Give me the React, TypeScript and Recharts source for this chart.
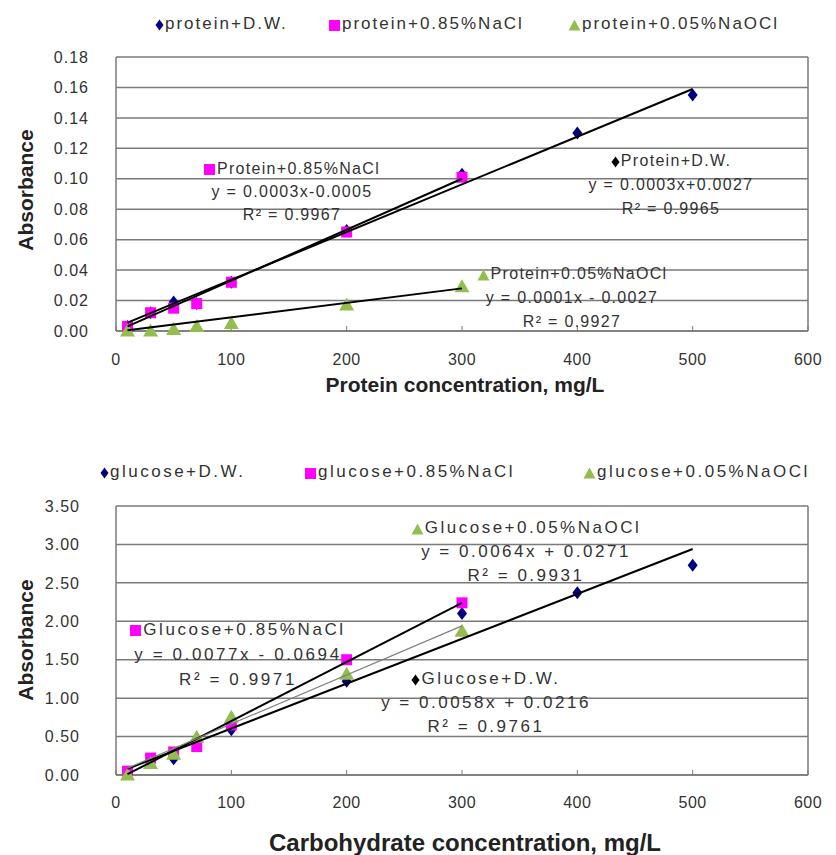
import React from 'react';
import { ScatterChart, Scatter, XAxis, YAxis, CartesianGrid, ReferenceLine } from 'recharts';

// concentrations, mg/L
const concAll = [10, 30, 50, 70, 100, 200, 300, 400, 500];
const concShort = [10, 30, 50, 70, 100, 200, 300];

// protein absorbance
const proteinDW = [0.003, 0.012, 0.019, 0.018, 0.032, 0.066, 0.103, 0.13, 0.155];
const proteinNaCl = [0.003, 0.012, 0.015, 0.018, 0.032, 0.065, 0.101];
const proteinNaOCl = [0.0, 0.0, 0.001, 0.003, 0.005, 0.017, 0.029];

// glucose absorbance
const glucoseDW = [0.03, 0.17, 0.21, 0.4, 0.59, 1.22, 2.1, 2.37, 2.73];
const glucoseNaCl = [0.05, 0.22, 0.3, 0.37, 0.65, 1.5, 2.24];
const glucoseNaOCl = [0.0, 0.15, 0.27, 0.49, 0.75, 1.31, 1.87];

// trendline end points
const trendXLong = [10, 500];
const trendXShort = [10, 300];
const proteinDWTrend = [0.0055, 0.159];
const proteinNaClTrend = [0.003, 0.1];
const proteinNaOClTrend = [0.0005, 0.028];
const glucoseDWTrend = [0.08, 2.94];
const glucoseNaClTrend = [0.01, 2.24];
const glucoseNaOClTrend = [0.09, 1.94];

const xTicks = [0, 100, 200, 300, 400, 500, 600];
const proteinYTicks = [0, 0.02, 0.04, 0.06, 0.08, 0.1, 0.12, 0.14, 0.16, 0.18];
const glucoseYTicks = [0, 0.5, 1, 1.5, 2, 2.5, 3, 3.5];

const NAVY = '#000080';
const PINK = '#FF00FF';
const GREEN = '#93BE4F';
const GRID = '#7a7a7a';
const FONT = '"Liberation Sans", Arial, sans-serif';

const pts = (xs: number[], ys: number[]) => ys.map((y, i) => ({ x: xs[i], y }));
const noDot = () => <g />;

const diamondDot = (p: any) => (
  <polygon points={`${p.cx},${p.cy - 6.5} ${p.cx + 5},${p.cy} ${p.cx},${p.cy + 6.5} ${p.cx - 5},${p.cy}`} fill={NAVY} />
);
const squareDot = (p: any) => <rect x={p.cx - 5.5} y={p.cy - 5.5} width={11} height={11} fill={PINK} />;
const triangleDot = (p: any) => (
  <polygon points={`${p.cx},${p.cy - 7.5} ${p.cx + 7.5},${p.cy + 5.5} ${p.cx - 7.5},${p.cy + 5.5}`} fill={GREEN} />
);

type ChartProps = {
  top: number;
  plotTop: number;
  plotBottom: number;
  yTicks: number[];
  yMax: number;
  labelGap: number;
  xLabelGap: number;
  dw: number[];
  nacl: number[];
  naocl: number[];
  dwTrend: number[];
  naclTrend: number[];
  naoclTrend: number[];
  naoclTrendColor: string;
  naoclTrendWidth: number;
};

const Plot = (p: ChartProps) => {
  const h = 400;
  const axisH = 40;
  return (
    <div style={{ position: 'absolute', left: 0, top: p.top }}>
      <ScatterChart
        width={836}
        height={h}
        margin={{ top: p.plotTop - p.top, right: 28, left: 56, bottom: h - (p.plotBottom - p.top) - axisH }}
      >
        <CartesianGrid vertical={false} stroke={GRID} strokeWidth={1.5} />
        <XAxis
          type="number"
          dataKey="x"
          domain={[0, 600]}
          ticks={xTicks}
          height={axisH}
          stroke={GRID}
          axisLine={{ stroke: GRID, strokeWidth: 1.5 }}
          tickSize={-5}
          tickMargin={p.xLabelGap}
          tick={{ fontSize: 16, fill: '#333', fontFamily: FONT, letterSpacing: 0.5 }}
        />
        <YAxis
          type="number"
          dataKey="y"
          domain={[0, p.yMax]}
          ticks={p.yTicks}
          width={60}
          axisLine={{ stroke: GRID, strokeWidth: 1.5 }}
          tickLine={false}
          tickSize={0}
          tickMargin={p.labelGap}
          tickFormatter={(v: number) => v.toFixed(2)}
          tick={{ fontSize: 16, fill: '#333', fontFamily: FONT, letterSpacing: 1 }}
        />
        <ReferenceLine x={600} stroke={GRID} strokeWidth={1.5} />
        <Scatter data={pts(concAll, p.dw)} shape={diamondDot} legendType="none" isAnimationActive={false} />
        <Scatter data={pts(concShort, p.nacl)} shape={squareDot} legendType="none" isAnimationActive={false} />
        <Scatter data={pts(concShort, p.naocl)} shape={triangleDot} legendType="none" isAnimationActive={false} />
        <Scatter data={pts(trendXLong, p.dwTrend)} line={{ stroke: '#000', strokeWidth: 2 }} shape={noDot} legendType="none" isAnimationActive={false} />
        <Scatter data={pts(trendXShort, p.naclTrend)} line={{ stroke: '#000', strokeWidth: 2 }} shape={noDot} legendType="none" isAnimationActive={false} />
        <Scatter data={pts(trendXShort, p.naoclTrend)} line={{ stroke: p.naoclTrendColor, strokeWidth: p.naoclTrendWidth }} shape={noDot} legendType="none" isAnimationActive={false} />
      </ScatterChart>
    </div>
  );
};

const Marker = ({ kind, color }: { kind: string; color: string }) => {
  if (kind === 'diamond')
    return (
      <svg width={9} height={12} style={{ verticalAlign: 'middle', marginRight: 1 }}>
        <polygon points="4.5,0.5 8.5,6 4.5,11.5 0.5,6" fill={color} />
      </svg>
    );
  if (kind === 'square')
    return (
      <svg width={12} height={12} style={{ verticalAlign: 'middle', marginRight: 1 }}>
        <rect x={0} y={1} width={11} height={11} fill={color} />
      </svg>
    );
  return (
    <svg width={13} height={12} style={{ verticalAlign: 'middle', marginRight: 1 }}>
      <polygon points="6.5,0.5 12.5,11.5 0.5,11.5" fill={color} />
    </svg>
  );
};

const Note = ({ cx, cy, lines, kind, color, size, spacing, lh }: any) => (
  <div
    style={{
      position: 'absolute',
      left: cx - 200,
      width: 400,
      top: cy - lh / 2,
      textAlign: 'center',
      fontSize: size,
      letterSpacing: spacing,
      lineHeight: `${lh}px`,
      color: '#333',
      whiteSpace: 'nowrap',
    }}
  >
    {lines.map((l: string, i: number) => (
      <div key={i}>
        {i === 0 && <Marker kind={kind} color={kind === 'diamond' ? '#000' : color} />}
        {l}
      </div>
    ))}
  </div>
);

const LegendItem = ({ x, cy, kind, color, text, size, spacing }: any) => (
  <div style={{ position: 'absolute', left: x, top: cy - 12, lineHeight: '24px', fontSize: size, letterSpacing: spacing, color: '#333', whiteSpace: 'nowrap' }}>
    <Marker kind={kind} color={color} />
    {text}
  </div>
);

const YTitle = ({ cy }: { cy: number }) => (
  <div
    style={{
      position: 'absolute',
      left: 26 - 100,
      top: cy - 14,
      width: 200,
      height: 28,
      lineHeight: '28px',
      textAlign: 'center',
      transform: 'rotate(-90deg)',
      fontWeight: 'bold',
      fontSize: 21,
      color: '#222',
    }}
  >
    Absorbance
  </div>
);

const XTitle = ({ cy, text, size }: { cy: number; text: string; size: number }) => (
  <div style={{ position: 'absolute', left: 465 - 300, width: 600, top: cy - 15, lineHeight: '30px', textAlign: 'center', fontWeight: 'bold', fontSize: size, color: '#222' }}>
    {text}
  </div>
);

export default function App() {
  return (
    <div style={{ position: 'absolute', left: 0, top: 0, width: 836, height: 855, background: '#fff', fontFamily: FONT, overflow: 'hidden' }}>
      <Plot
        top={0}
        plotTop={57}
        plotBottom={331}
        yTicks={proteinYTicks}
        yMax={0.18}
        labelGap={27}
        xLabelGap={28}
        dw={proteinDW}
        nacl={proteinNaCl}
        naocl={proteinNaOCl}
        dwTrend={proteinDWTrend}
        naclTrend={proteinNaClTrend}
        naoclTrend={proteinNaOClTrend}
        naoclTrendColor="#000"
        naoclTrendWidth={2}
      />
      <Plot
        top={450}
        plotTop={506}
        plotBottom={775}
        yTicks={glucoseYTicks}
        yMax={3.5}
        labelGap={36}
        xLabelGap={27}
        dw={glucoseDW}
        nacl={glucoseNaCl}
        naocl={glucoseNaOCl}
        dwTrend={glucoseDWTrend}
        naclTrend={glucoseNaClTrend}
        naoclTrend={glucoseNaOClTrend}
        naoclTrendColor="#808080"
        naoclTrendWidth={1.2}
      />

      <LegendItem x={155} cy={24} kind="diamond" color={NAVY} text="protein+D.W." size={17} spacing={2} />
      <LegendItem x={329} cy={24} kind="square" color={PINK} text="protein+0.85%NaCl" size={17} spacing={2} />
      <LegendItem x={568} cy={24} kind="triangle" color={GREEN} text="protein+0.05%NaOCl" size={17} spacing={2} />

      <LegendItem x={100} cy={472} kind="diamond" color={NAVY} text="glucose+D.W." size={17} spacing={2.5} />
      <LegendItem x={305} cy={472} kind="square" color={PINK} text="glucose+0.85%NaCl" size={17} spacing={2.5} />
      <LegendItem x={583} cy={472} kind="triangle" color={GREEN} text="glucose+0.05%NaOCl" size={17} spacing={2.5} />

      <Note cx={292} cy={168} kind="square" color={PINK} size={16} spacing={1.3} lh={23} lines={['Protein+0.85%NaCl', 'y = 0.0003x-0.0005', 'R² = 0.9967']} />
      <Note cx={671} cy={161} kind="diamond" color={NAVY} size={16} spacing={1.3} lh={24} lines={['Protein+D.W.', 'y = 0.0003x+0.0027', 'R² = 0.9965']} />
      <Note cx={572} cy={274} kind="triangle" color={GREEN} size={16} spacing={1.3} lh={24} lines={['Protein+0.05%NaOCl', 'y = 0.0001x - 0.0027', 'R² = 0.9927']} />

      <Note cx={526} cy={528} kind="triangle" color={GREEN} size={17} spacing={2.5} lh={24} lines={['Glucose+0.05%NaOCl', 'y = 0.0064x + 0.0271', 'R² = 0.9931']} />
      <Note cx={238} cy={629} kind="square" color={PINK} size={17} spacing={2.6} lh={25} lines={['Glucose+0.85%NaCl', 'y = 0.0077x - 0.0694', 'R² = 0.9971']} />
      <Note cx={486} cy={679} kind="diamond" color={NAVY} size={17} spacing={2.5} lh={24} lines={['Glucose+D.W.', 'y = 0.0058x + 0.0216', 'R² = 0.9761']} />

      <YTitle cy={190} />
      <YTitle cy={640} />
      <XTitle cy={385} text="Protein concentration, mg/L" size={21} />
      <XTitle cy={843} text="Carbohydrate concentration, mg/L" size={24} />
    </div>
  );
}
